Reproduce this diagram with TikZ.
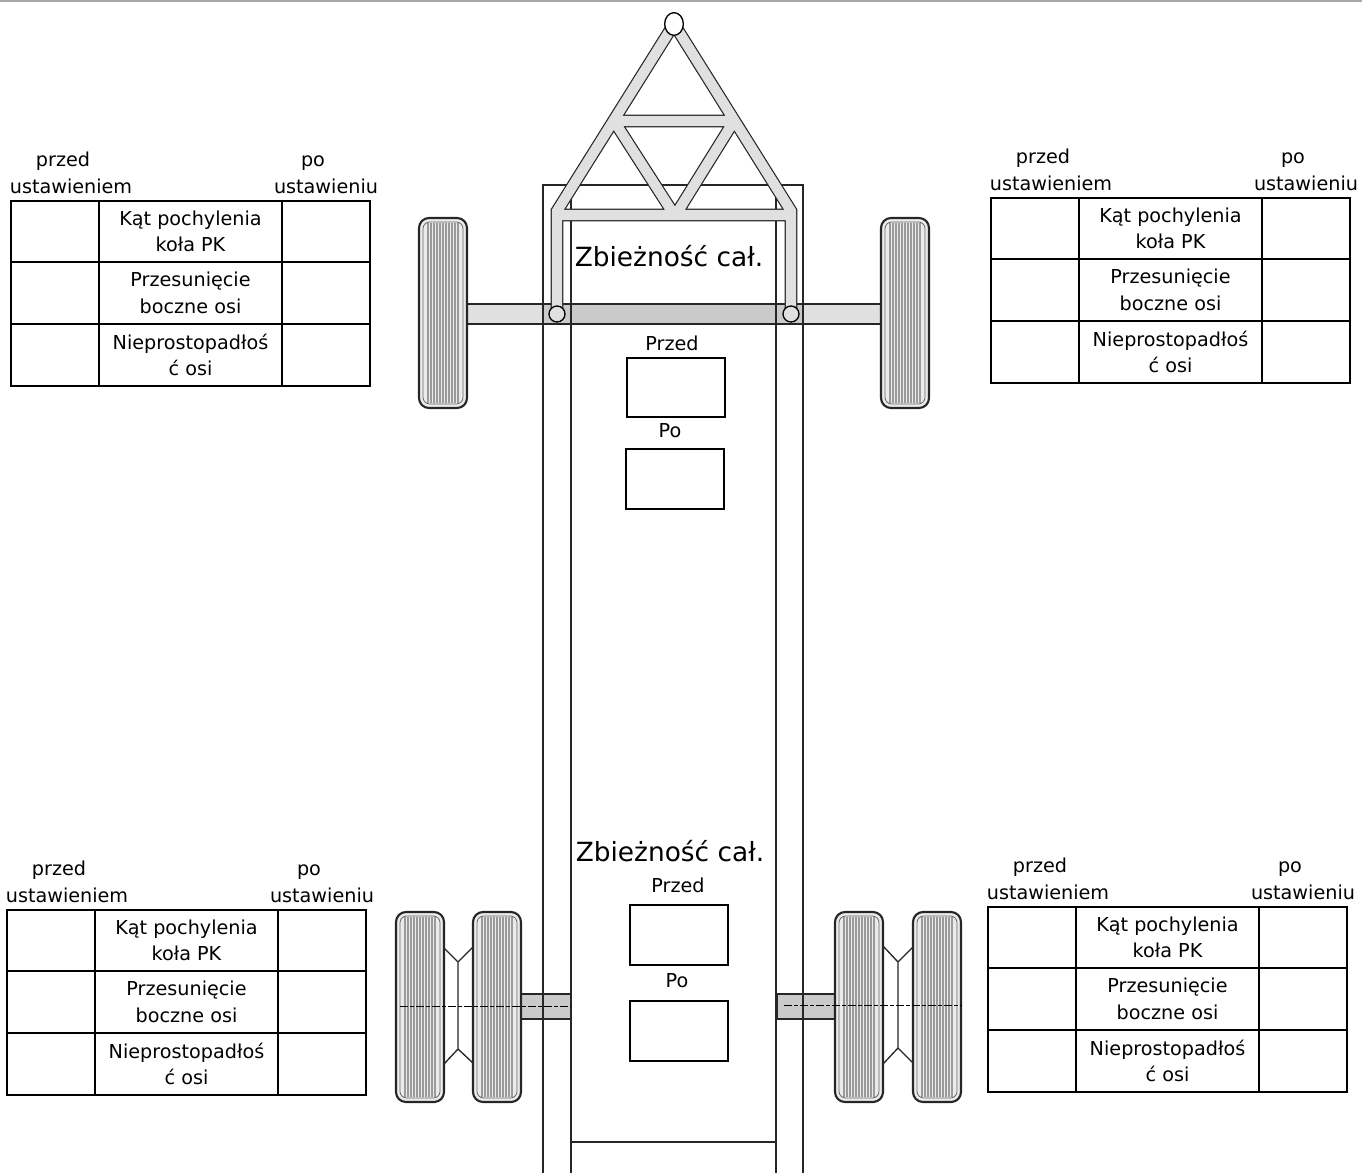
\documentclass[tikz,border=0pt]{standalone}
\usepackage{fontspec}
\setmainfont{DejaVu Sans}
\usetikzlibrary{shapes.geometric,positioning}
\definecolor{barfill}{HTML}{E0E0E0}
\definecolor{axlefill}{HTML}{CACACA}
\definecolor{tyrefill}{HTML}{EBEBEB}
\definecolor{tread}{HTML}{9A9A9A}
\tikzstyle{every node}=[font=\fontsize{14.4}{19.8}\selectfont,inner sep=0pt,text=black]
\tikzstyle{frameline}=[draw=black!85,line width=1.5pt]
\tikzstyle{cell}=[draw=black,line width=1.5pt,minimum height=46.2pt,align=center,anchor=center]
\tikzstyle{sidecell}=[cell,minimum width=66pt]
\tikzstyle{midcell}=[cell,minimum width=137.25pt]
\tikzstyle{headtext}=[text height=11pt,text depth=3pt]
\tikzstyle{valuebox}=[draw=black,line width=1.4pt,minimum width=73.5pt,minimum height=44.5pt]
\tikzstyle{bigtitle}=[font=\fontsize{19.8}{24}\selectfont]
\tikzstyle{towbar}=[draw=black!85,line width=.9pt,double=barfill,double distance=7.6pt,line join=miter]
\tikzstyle{pivot}=[draw=black,line width=1pt,circle,fill=barfill,minimum size=12pt]
\tikzstyle{hitch}=[draw=black,line width=1pt,ellipse,fill=white,minimum width=14pt,minimum height=17pt]
\tikzstyle{rim}=[draw=black!85,line width=1pt,line join=miter]
\tikzstyle{centreline}=[draw=black,line width=.7pt,dash pattern=on 6pt off 1.5pt on 3pt off 1.5pt]
\newcommand{\wheel}[2]{
  \begin{scope}[shift={(#1,#2)}]
    \fill[tyrefill,rounded corners=7.5pt] (0,0) rectangle (48,190);
    \foreach \t in {9,12,15,18,21,24,27,30,33,36,39}
      \draw[tread,line width=.8pt] (\t,5) -- (\t,185);
    \draw[black!85,line width=1.6pt,rounded corners=7.5pt] (0,0) rectangle (48,190);
    \draw[black!60,line width=.6pt,rounded corners=5pt] (4,4) rectangle (44,186);
  \end{scope}
}
\newcommand{\ustawienia}[3]{
  \begin{scope}[shift={(#2,#3)}]
    \node[headtext] (#1-przed) at (63,161.5) {przed};
    \node[headtext] (#1-przedb) at (71,188) {ustawieniem};
    \node[headtext] (#1-po) at (313,161.5) {po};
    \node[headtext] (#1-pob) at (326,188) {ustawieniu};
    \node[sidecell] (#1-a1) at (55,231.5) {};
    \node[midcell] (#1-a2) at (190.5,231.5) {Kąt pochylenia\\koła PK};
    \node[sidecell] (#1-a3) at (326,231.5) {};
    \node[sidecell] (#1-b1) at (55,293) {};
    \node[midcell] (#1-b2) at (190.5,293) {Przesunięcie\\boczne osi};
    \node[sidecell] (#1-b3) at (326,293) {};
    \node[sidecell] (#1-c1) at (55,355) {};
    \node[midcell] (#1-c2) at (190.5,355) {Nieprostopadłoś\\ć osi};
    \node[sidecell] (#1-c3) at (326,355) {};
  \end{scope}
}
\begin{document}
\begin{tikzpicture}[x=.75pt,y=-.75pt]
\useasboundingbox (0,0) rectangle (1362,1173);
\draw[black!35,line width=1.5pt] (0,1) -- (1362,1);
\draw[draw=black!85,line width=1.2pt,fill=barfill] (467,304) rectangle (881,324);
\draw[draw=black!85,line width=1.2pt,fill=axlefill] (543,304) rectangle (803,324);
\draw[draw=black!85,line width=1pt,fill=axlefill] (521,994) rectangle (571,1019);
\draw[draw=black!85,line width=1pt,fill=axlefill] (777,994) rectangle (835,1019);
\draw[frameline] (543,1173) -- (543,185) -- (803,185) -- (803,1173);
\draw[frameline] (571,197) -- (571,1173);
\draw[frameline] (776,197) -- (776,1173);
\draw[frameline] (571,1142) -- (776,1142);
\coordinate (apex) at (674,24);
\coordinate (towl) at (557,211);
\coordinate (towr) at (791,211);
\coordinate (crossl) at (614,121);
\coordinate (crossr) at (734,121);
\coordinate (towm) at (675,216);
\draw[towbar] (apex) -- (towl) -- (557,312) (apex) -- (towr) -- (791,312)
  (557,215) -- (791,215) (crossl) -- (crossr) (crossl) -- (towm) (crossr) -- (towm);
\node[hitch] (hitch) at (apex) {};
\node[pivot] (pivotl) at (557,314) {};
\node[pivot] (pivotr) at (791,314) {};
\wheel{419}{218}
\wheel{881}{218}
\draw[rim] (444,948) -- (458,962) -- (474,946) (458,962) -- (458,1049)
  (444,1064) -- (458,1049) -- (474,1064);
\draw[rim] (883,946) -- (898,962) -- (913,947) (898,962) -- (898,1048)
  (883,1064) -- (898,1048) -- (913,1063);
\wheel{396}{912}
\wheel{473}{912}
\wheel{835}{912}
\wheel{913}{912}
\draw[centreline] (400,1006) -- (571,1006);
\draw[centreline] (784,1005) -- (962,1005);
\node[bigtitle] (zbieznosc1) at (669,256) {Zbieżność cał.};
\node[headtext] (przed1) at (672,345) {Przed};
\node[valuebox] (boxprzed1) at (676,387.5) {};
\node[headtext] (po1) at (670,432) {Po};
\node[valuebox] (boxpo1) at (675,479) {};
\node[bigtitle] (zbieznosc2) at (670,851) {Zbieżność cał.};
\node[headtext] (przed2) at (678,887) {Przed};
\node[valuebox] (boxprzed2) at (679,935) {};
\node[headtext] (po2) at (677,982) {Po};
\node[valuebox] (boxpo2) at (679,1031) {};
\ustawienia{tl}{0}{0}
\ustawienia{tr}{980}{-3}
\ustawienia{bl}{-4}{709}
\ustawienia{br}{977}{706}
\end{tikzpicture}
\end{document}
